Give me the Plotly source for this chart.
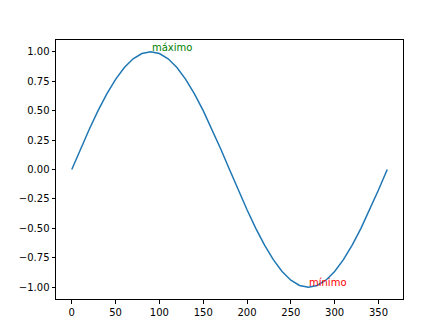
import plotly.graph_objects as go

angles = [0, 10, 20, 30, 40, 50, 60, 70, 80, 90, 100, 110, 120, 130, 140, 150, 160, 170, 180,
          190, 200, 210, 220, 230, 240, 250, 260, 270, 280, 290, 300, 310, 320, 330, 340, 350, 360]
values = [0.0, 0.174, 0.342, 0.5, 0.643, 0.766, 0.866, 0.94, 0.985, 1.0, 0.985, 0.94, 0.866, 0.766,
          0.643, 0.5, 0.342, 0.174, 0.0, -0.174, -0.342, -0.5, -0.643, -0.766, -0.866, -0.94,
          -0.985, -1.0, -0.985, -0.94, -0.866, -0.766, -0.643, -0.5, -0.342, -0.174, 0.0]
x_ticks = [0, 50, 100, 150, 200, 250, 300, 350]
y_ticks = [-1.0, -0.75, -0.5, -0.25, 0.0, 0.25, 0.5, 0.75, 1.0]
labels = ["máximo", "mínimo"]
label_x = [90, 270]
label_y = [1.0, -1.0]
label_colors = ["green", "red"]

fig = go.Figure()
fig.add_trace(go.Scatter(x=angles, y=values, mode="lines",
                         line=dict(color="#1f77b4", width=1.5), showlegend=False))

for t, lx, ly, c in zip(labels, label_x, label_y, label_colors):
    fig.add_annotation(x=lx, y=ly, text=t, showarrow=False, xanchor="left", yanchor="bottom",
                       yshift=-3, xshift=-1, font=dict(color=c, size=10, family="DejaVu Sans"))

axis_common = dict(showline=True, mirror=True, linecolor="black", linewidth=1,
                   ticks="outside", ticklen=3.5, tickwidth=1, tickcolor="black",
                   showgrid=False, zeroline=False,
                   tickfont=dict(family="DejaVu Sans", size=10, color="black"))

fig.update_xaxes(range=[-18, 378], tickvals=x_ticks, **axis_common)
fig.update_yaxes(range=[-1.1, 1.1], tickvals=y_ticks, tickformat=".2f", **axis_common)

fig.update_layout(width=448, height=336, margin=dict(l=56, r=45, t=40, b=37),
                  plot_bgcolor="white", paper_bgcolor="white",
                  font=dict(family="DejaVu Sans", size=10, color="black"))

fig.write_html("out.html")
